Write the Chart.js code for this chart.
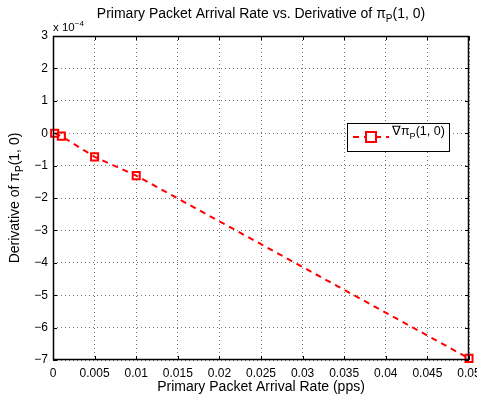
<!DOCTYPE html>
<html>
<head>
<meta charset="utf-8">
<script src="https://cdn.jsdelivr.net/npm/chart.js@4"></script>
<style>
  html, body { margin: 0; padding: 0; background: #fff; }
  #wrap { width: 477px; height: 401px; }
</style>
</head>
<body>
<div id="wrap"><canvas id="chart" width="477" height="401"></canvas></div>
<script>
// values (y in units of 1e-4)
const arrivalRates = [0.0002, 0.001, 0.005, 0.01, 0.05];
const derivValues = [0, -0.09, -0.73, -1.31, -6.95];
const xTicks = [0, 0.005, 0.01, 0.015, 0.02, 0.025, 0.03, 0.035, 0.04, 0.045, 0.05];
const yTicks = [-7, -6, -5, -4, -3, -2, -1, 0, 1, 2, 3];

const FONT = '"Liberation Sans", Arial, Helvetica, sans-serif';
const RED = '#ff0000';

// draw text pieces, some as sub/superscript
function richText(ctx, parts, x, y, size, align) {
  const small = Math.round(size * 0.72);
  let total = 0;
  parts.forEach(p => {
    ctx.font = (p[1] ? small : size) + 'px ' + FONT;
    total += ctx.measureText(p[0]).width;
  });
  let cx = align === 'center' ? x - total / 2 : x;
  ctx.textAlign = 'left';
  ctx.textBaseline = 'alphabetic';
  parts.forEach(p => {
    ctx.font = (p[1] ? small : size) + 'px ' + FONT;
    let dy = 0;
    if (p[1] === 'sub') dy = size * 0.3;
    if (p[1] === 'sup') dy = -size * 0.45;
    ctx.fillText(p[0], cx, y + dy);
    cx += ctx.measureText(p[0]).width;
  });
}

const matlabLook = {
  id: 'matlabLook',
  afterDraw(chart) {
    const ctx = chart.ctx;
    const a = chart.chartArea;
    const xs = chart.scales.x, ys = chart.scales.y;
    ctx.save();
    // frame
    ctx.strokeStyle = '#000';
    ctx.lineWidth = 1.5;
    ctx.setLineDash([]);
    ctx.strokeRect(a.left + 0.5, a.top + 0.5, a.right - a.left - 1, a.bottom - a.top - 1);
    // inward ticks
    ctx.lineWidth = 1;
    ctx.beginPath();
    xTicks.forEach(v => {
      const px = Math.round(xs.getPixelForValue(v)) + 0.5;
      ctx.moveTo(px, a.bottom); ctx.lineTo(px, a.bottom - 4);
      ctx.moveTo(px, a.top); ctx.lineTo(px, a.top + 4);
    });
    yTicks.forEach(v => {
      const py = Math.round(ys.getPixelForValue(v)) + 0.5;
      ctx.moveTo(a.left, py); ctx.lineTo(a.left + 4, py);
      ctx.moveTo(a.right, py); ctx.lineTo(a.right - 4, py);
    });
    ctx.stroke();

    ctx.fillStyle = '#000';
    // title
    richText(ctx, [['Primary Packet Arrival Rate vs. Derivative of '], ['\u03c0'], ['P', 'sub'], ['(1, 0)']],
      (a.left + a.right) / 2, 18, 14, 'center');
    // exponent
    richText(ctx, [['x 10'], ['\u22124', 'sup']], a.left, 31, 11.5, 'left');
    // x label
    ctx.font = '14px ' + FONT;
    ctx.textAlign = 'center';
    ctx.fillText('Primary Packet Arrival Rate (pps)', (a.left + a.right) / 2, 391);
    // y label
    ctx.save();
    ctx.translate(19, (a.top + a.bottom) / 2);
    ctx.rotate(-Math.PI / 2);
    richText(ctx, [['Derivative of '], ['\u03c0'], ['P', 'sub'], ['(1, 0)']], 0, 0, 14, 'center');
    ctx.restore();

    // legend
    const lx = 347, ly = 123, lw = 102, lh = 28;
    ctx.fillStyle = '#fff';
    ctx.fillRect(lx, ly, lw, lh);
    ctx.strokeStyle = '#000';
    ctx.lineWidth = 1;
    ctx.strokeRect(lx + 0.5, ly + 0.5, lw, lh);
    const my = ly + 14;
    ctx.strokeStyle = RED;
    ctx.lineWidth = 2;
    ctx.setLineDash([6, 5]);
    ctx.beginPath();
    ctx.moveTo(353, my); ctx.lineTo(389, my);
    ctx.stroke();
    ctx.setLineDash([]);
    ctx.fillStyle = '#fff';
    ctx.fillRect(366, my - 5, 10, 10);
    ctx.strokeRect(366, my - 5, 10, 10);
    ctx.fillStyle = '#000';
    richText(ctx, [['\u2207\u03c0'], ['P', 'sub'], ['(1, 0)']], 392, ly + 12, 12.5, 'left');
    ctx.restore();
  }
};

new Chart(document.getElementById('chart'), {
  type: 'scatter',
  data: {
    datasets: [{
      label: '\u2207\u03c0P(1, 0)',
      data: arrivalRates.map((r, i) => ({ x: r, y: derivValues[i] })),
      showLine: true,
      borderColor: RED,
      borderWidth: 2,
      borderDash: [6, 5],
      pointStyle: 'rect',
      pointRadius: 5,
      pointHoverRadius: 5,
      pointBorderColor: RED,
      pointBorderWidth: 2,
      pointBackgroundColor: 'rgba(255,255,255,0)',
      clip: false
    }]
  },
  options: {
    responsive: false,
    animation: false,
    events: [],
    layout: { padding: { left: 0, right: 8, top: 36, bottom: 0 } },
    plugins: { legend: { display: false }, title: { display: false }, tooltip: { enabled: false } },
    scales: {
      x: {
        type: 'linear',
        min: 0, max: 0.05,
        afterFit: s => { s.height = 41; s.paddingLeft = 0; s.paddingRight = 0; },
        afterBuildTicks: s => { s.ticks = xTicks.map(v => ({ value: v })); },
        ticks: {
          color: '#000', padding: 6, maxRotation: 0,
          font: { family: FONT, size: 12 },
          callback: v => String(Number(v.toFixed(3)))
        },
        grid: { color: 'rgba(0,0,0,0.55)', lineWidth: 1, drawTicks: false },
        border: { display: false, dash: [1, 3] }
      },
      y: {
        min: -7, max: 3,
        afterFit: s => { s.width = 53; s.paddingTop = 0; s.paddingBottom = 0; },
        afterBuildTicks: s => { s.ticks = yTicks.map(v => ({ value: v })); },
        ticks: {
          color: '#000', padding: 5,
          font: { family: FONT, size: 12 },
          callback: v => (v < 0 ? '\u2212' + Math.abs(v) : String(v))
        },
        grid: { color: 'rgba(0,0,0,0.55)', lineWidth: 1, drawTicks: false },
        border: { display: false, dash: [1, 3] }
      }
    }
  },
  plugins: [matlabLook]
});
</script>
</body>
</html>
